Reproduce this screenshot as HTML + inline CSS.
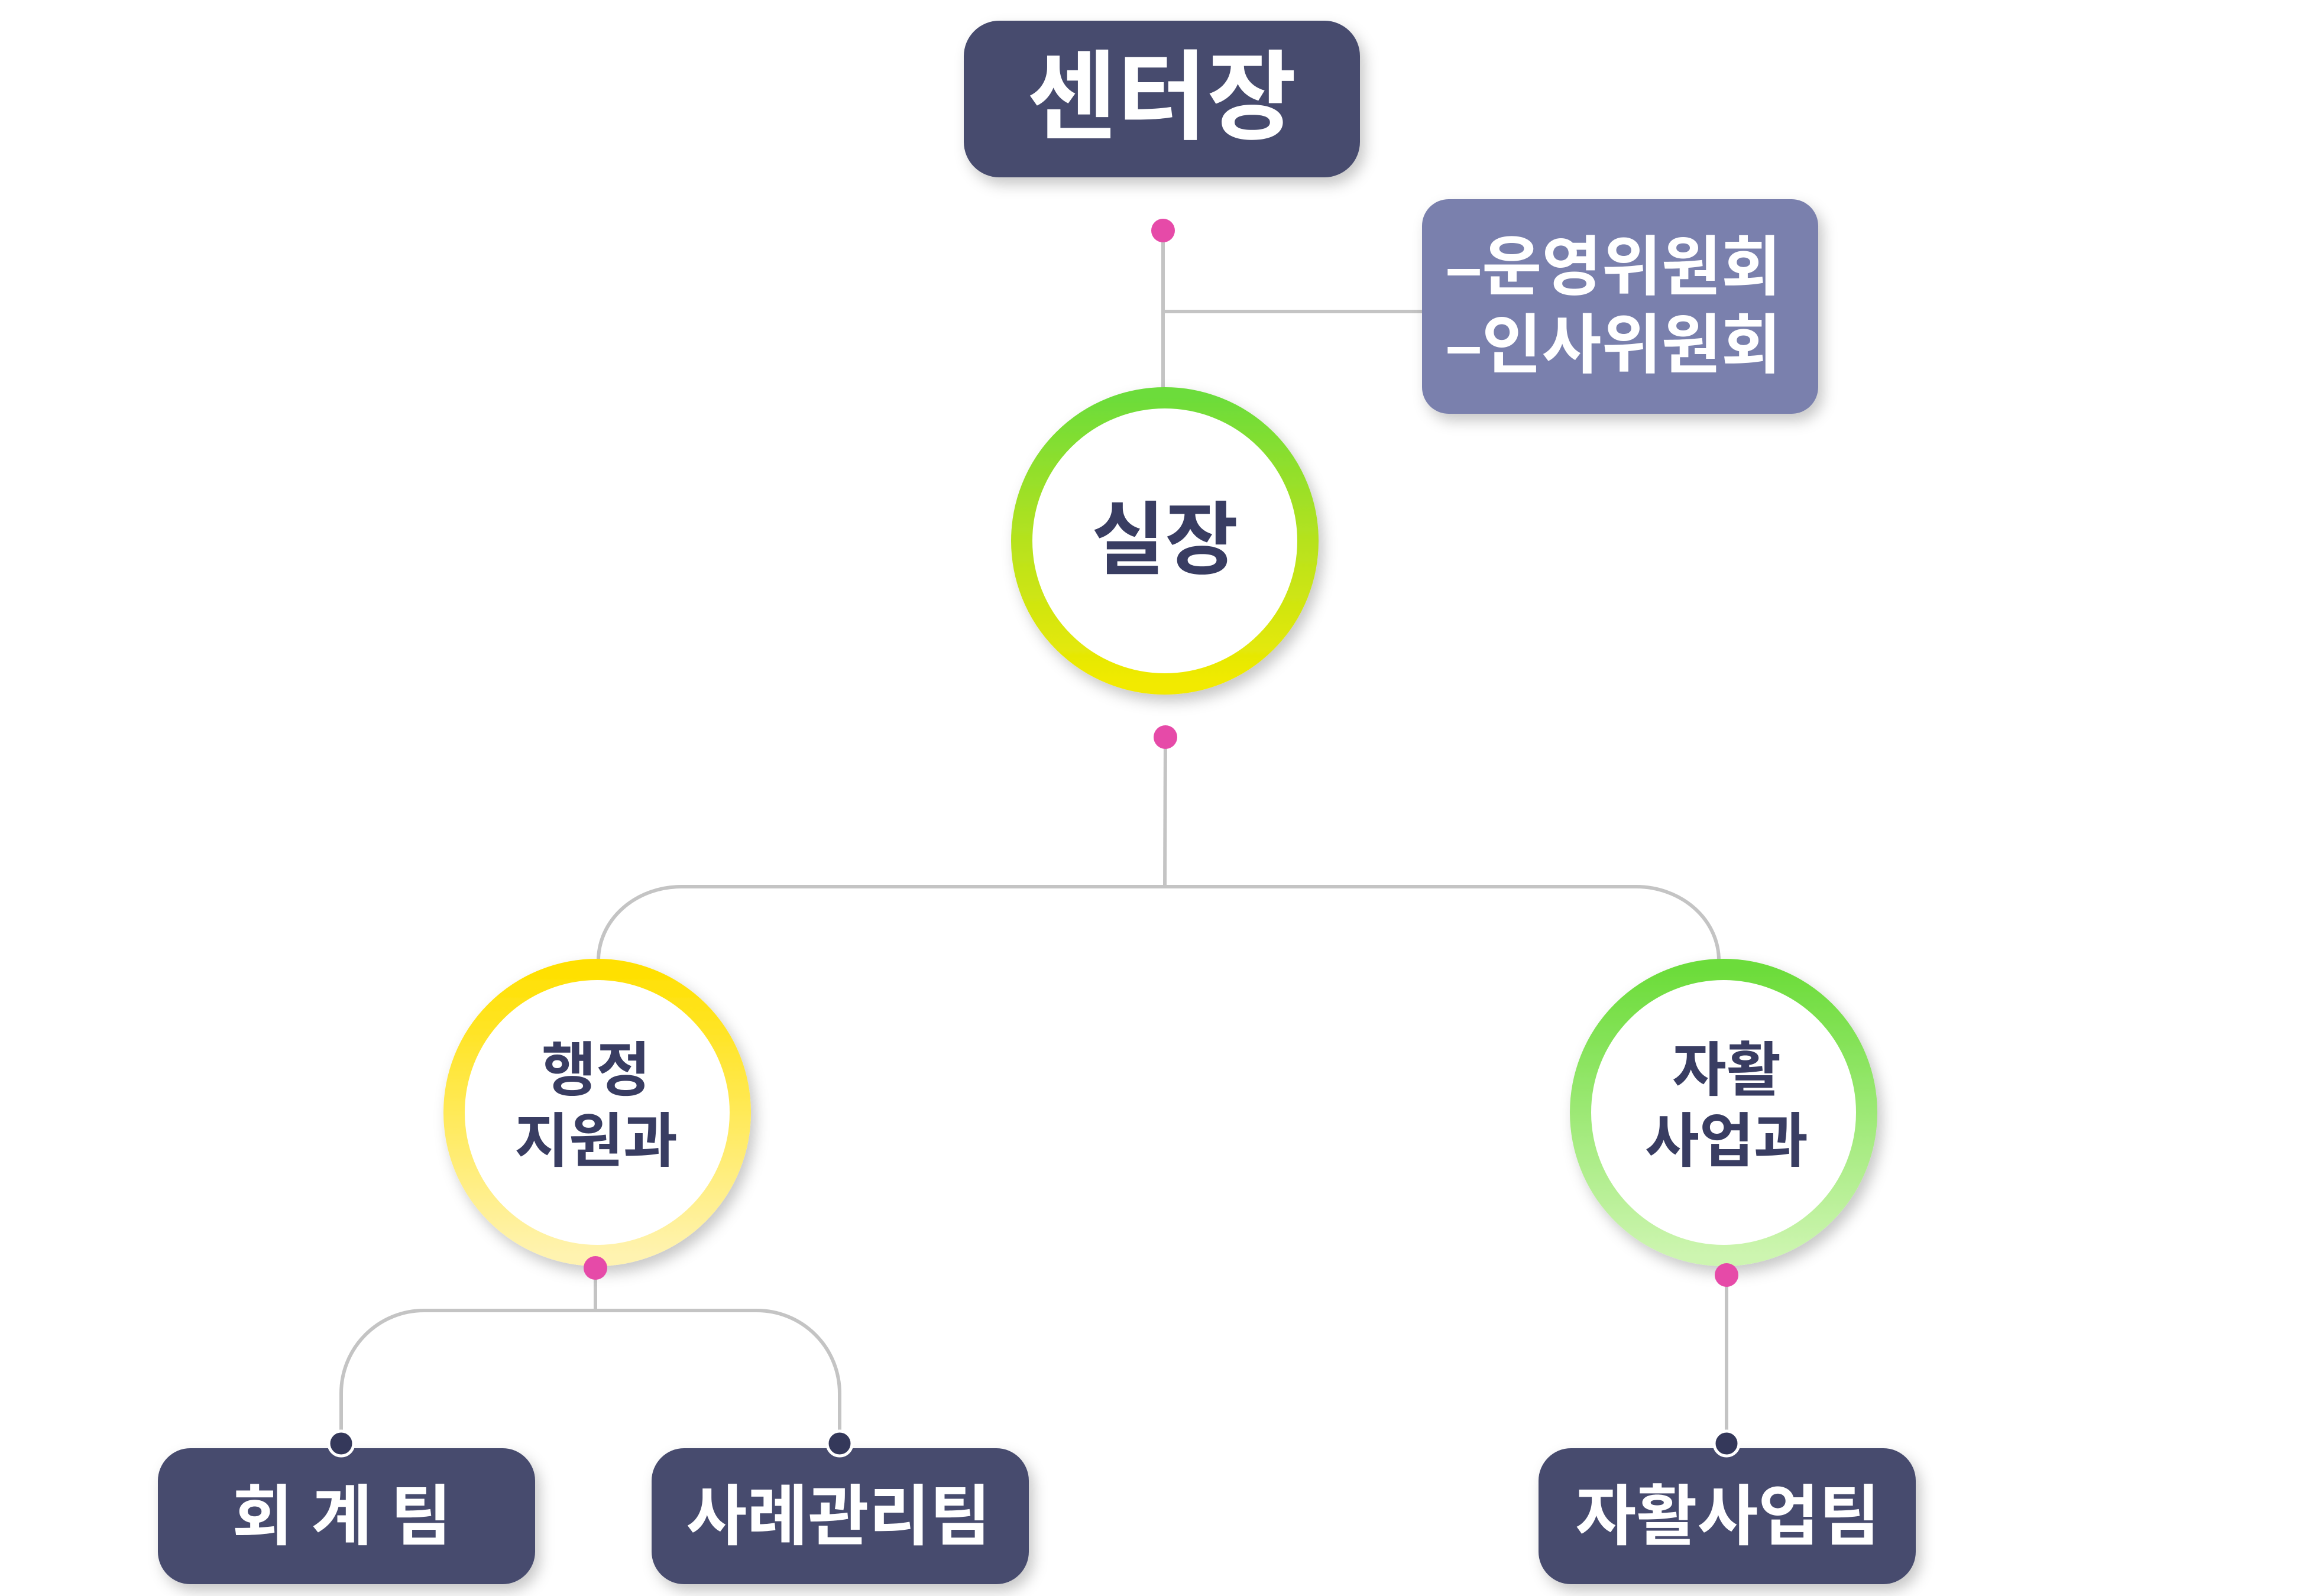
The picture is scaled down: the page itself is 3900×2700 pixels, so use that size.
<!DOCTYPE html>
<html><head><meta charset="utf-8"><style>
html,body{margin:0;padding:0;background:#fff;}
svg{display:block;}
text{font-family:"Liberation Sans","Noto Sans CJK KR",sans-serif;font-weight:700;}
</style></head><body>
<svg width="3900" height="2700" viewBox="0 0 3900 2700" xmlns="http://www.w3.org/2000/svg">
<defs>
<linearGradient id="g1" x1="0" y1="0" x2="0" y2="1"><stop offset="0" stop-color="#6cdc3a"/><stop offset="0.5" stop-color="#b6e21e"/><stop offset="1" stop-color="#f2ea00"/></linearGradient>
<linearGradient id="g2" x1="0" y1="0" x2="0" y2="1"><stop offset="0" stop-color="#ffe000"/><stop offset="1" stop-color="#fff3b0"/></linearGradient>
<linearGradient id="g3" x1="0" y1="0" x2="0" y2="1"><stop offset="0" stop-color="#6cdc3a"/><stop offset="1" stop-color="#cdf5b0"/></linearGradient>
<filter id="sh" x="-20%" y="-20%" width="140%" height="150%"><feDropShadow dx="8" dy="12" stdDeviation="12" flood-color="#000" flood-opacity="0.22"/></filter>
</defs>
<g fill="none" stroke="#c4c4c4" stroke-width="6">
<line x1="1967" y1="390" x2="1967" y2="660"/>
<line x1="1967" y1="527" x2="2405" y2="527"/>
<line x1="1971" y1="1247" x2="1970" y2="1500"/>
<path d="M1012 1625 A140 125 0 0 1 1152 1500 L2767 1500 A140 125 0 0 1 2907 1625"/>
<line x1="1007" y1="2145" x2="1007" y2="2217"/>
<path d="M577 2442 L577 2357 A140 140 0 0 1 717 2217 L1280 2217 A140 140 0 0 1 1420 2357 L1420 2442"/>
<line x1="2920" y1="2157" x2="2920" y2="2442"/>
</g>
<rect x="1630" y="35" width="670" height="265" rx="60" fill="#474b6e" filter="url(#sh)"/>
<text x="1965" y="222" font-size="165" fill="#fff" text-anchor="middle">센터장</text>
<rect x="2405" y="337" width="670" height="363" rx="45" fill="#7a80ad" filter="url(#sh)"/>
<text x="2445" y="490" font-size="110" fill="#fff" font-weight="500">–운영위원회</text>
<text x="2445" y="622" font-size="110" fill="#fff" font-weight="500">–인사위원회</text>
<circle cx="1970" cy="915" r="242" fill="#fff" stroke="url(#g1)" stroke-width="36" filter="url(#sh)"/>
<text x="1970" y="960" font-size="135" fill="#393d62" text-anchor="middle">실장</text>
<circle cx="1010" cy="1882" r="242" fill="#fff" stroke="url(#g2)" stroke-width="36" filter="url(#sh)"/>
<text x="1008" y="1845" font-size="100" fill="#393d62" text-anchor="middle">행정</text>
<text x="1008" y="1965" font-size="100" fill="#393d62" text-anchor="middle">지원과</text>
<circle cx="2915" cy="1882" r="242" fill="#fff" stroke="url(#g3)" stroke-width="36" filter="url(#sh)"/>
<text x="2920" y="1845" font-size="100" fill="#393d62" text-anchor="middle">자활</text>
<text x="2920" y="1965" font-size="100" fill="#393d62" text-anchor="middle">사업과</text>
<g fill="#474b6e" filter="url(#sh)">
<rect x="267" y="2450" width="638" height="230" rx="55"/>
<rect x="1102" y="2450" width="638" height="230" rx="55"/>
<rect x="2602" y="2450" width="638" height="230" rx="55"/>
</g>
<g font-size="112" fill="#fff" text-anchor="middle">
<text x="578" y="2604">회 계 팀</text>
<text x="1418" y="2604">사례관리팀</text>
<text x="2922" y="2604">자활사업팀</text>
</g>
<g fill="#e64aa8">
<circle cx="1967" cy="390" r="20"/>
<circle cx="1971" cy="1247" r="20"/>
<circle cx="1007" cy="2145" r="20"/>
<circle cx="2920" cy="2157" r="20"/>
</g>
<g fill="#34385a" stroke="#fff" stroke-width="5">
<circle cx="577" cy="2442" r="21"/>
<circle cx="1420" cy="2442" r="21"/>
<circle cx="2920" cy="2442" r="21"/>
</g>
</svg>
</body></html>
